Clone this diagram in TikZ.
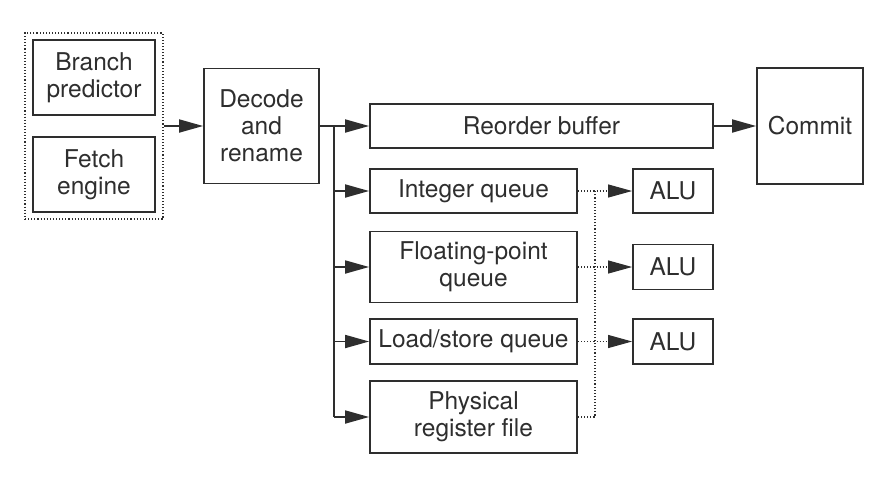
\documentclass[tikz,border=0pt]{standalone}
\usepackage{fontspec}
\setmainfont{TeX Gyre Heros}
\usetikzlibrary{arrows.meta}
\definecolor{ink}{HTML}{2E2E2E}
\tikzset{
  box/.style={draw=ink, line width=1.8pt, text=ink, inner sep=0pt, align=center,
    font=\fontsize{24.5}{27}\selectfont},
  arr/.style={draw=ink, line width=1.8pt, -{Triangle[length=24pt,width=13pt]}},
  conn/.style={draw=ink, line width=1.8pt},
  dotl/.style={draw=ink, line width=1.1pt, dash pattern=on 1.1pt off 2pt},
  dotarr/.style={dotl, -{Triangle[length=24pt,width=13pt]}},
}
\begin{document}
\begin{tikzpicture}[x=1pt,y=-1pt]
\useasboundingbox (0,0) rectangle (888,480);
\node[box, minimum width=122pt, minimum height=75pt] (bp) at (94,77.5) {Branch\\predictor};
\node[box, minimum width=122pt, minimum height=75pt] (fe) at (94,174.5) {Fetch\\engine};
\node[dotl, draw=ink, minimum width=138pt, minimum height=186pt, inner sep=0pt] (grp) at (94,126) {};
\node[box, minimum width=115pt, minimum height=115pt] (dec) at (261.5,126) {Decode\\and\\rename};
\node[box, minimum width=343pt, minimum height=44pt] (rob) at (541.5,126) {Reorder buffer};
\node[box, minimum width=106pt, minimum height=116pt] (com) at (810,126) {Commit};
\node[box, minimum width=207pt, minimum height=44pt] (iq) at (473.5,191) {Integer queue};
\node[box, minimum width=80pt, minimum height=44pt] (alu1) at (673,191) {ALU};
\node[box, minimum width=207pt, minimum height=71pt] (fq) at (473.5,267) {Floating-point\\queue};
\node[box, minimum width=80pt, minimum height=45pt] (alu2) at (673,267) {ALU};
\node[box, minimum width=207pt, minimum height=45pt] (lsq) at (473.5,341.5) {Load/store queue};
\node[box, minimum width=80pt, minimum height=45pt] (alu3) at (673,341.5) {ALU};
\node[box, minimum width=207pt, minimum height=72pt] (prf) at (473.5,417) {Physical\\register file};
% fetch group to decode
\draw[arr] (grp.east) -- (dec.west);
% split
\coordinate (sp) at (334,126);
\draw[conn] (dec.east) -- (sp) -- (sp |- prf.west);
\draw[arr] (sp) -- (rob.west);
\draw[arr] (sp |- iq.west) -- (iq.west);
\draw[arr] (sp |- fq.west) -- (fq.west);
\draw[arr] (sp |- lsq.west) -- (lsq.west);
\draw[arr] (sp |- prf.west) -- (prf.west);
\draw[arr] (rob.east) -- (com.west);
% dotted
\coordinate (vx) at (595,0);
\draw[dotl] (prf.east) -| (vx |- iq.east);
\draw[dotarr] (iq.east) -- (alu1.west);
\draw[dotarr] (fq.east) -- (alu2.west);
\draw[dotarr] (lsq.east) -- (alu3.west);
\end{tikzpicture}
\end{document}
